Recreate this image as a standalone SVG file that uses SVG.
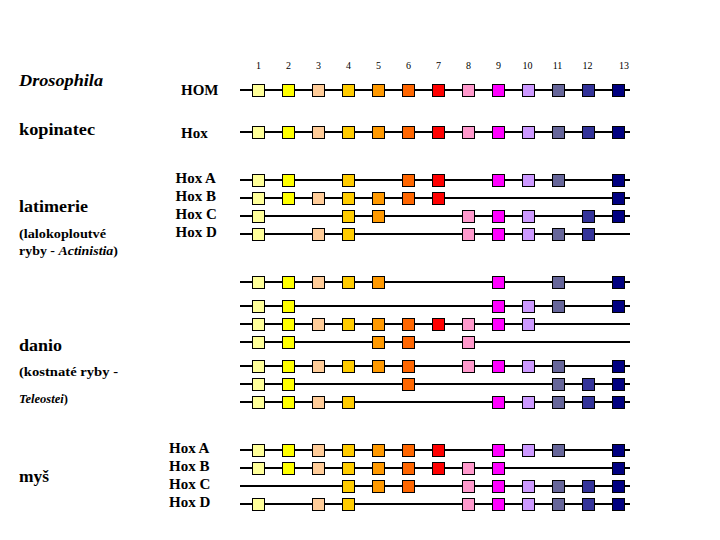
<svg xmlns="http://www.w3.org/2000/svg" width="720" height="540" viewBox="0 0 720 540">
<style>
text{font-family:'Liberation Serif','Tinos','Times New Roman','DejaVu Serif',serif;fill:#000}
.sp{font-weight:bold;font-size:16px}
.sub{font-weight:bold;font-size:12.5px}
.hx{font-size:15px;font-weight:bold}
.num{font-size:10px;text-anchor:middle}
.row line{stroke:#000;stroke-width:2}
.row rect{stroke:#000;stroke-width:1}
.c1{fill:#FFFF99}.c2{fill:#FFFF00}.c3{fill:#FFCC99}.c4{fill:#FFCC00}.c5{fill:#FF9900}
.c6{fill:#FF6600}.c7{fill:#FF0000}.c8{fill:#FF99CC}.c9{fill:#FF00FF}.c10{fill:#CC99FF}
.c11{fill:#666699}.c12{fill:#333399}.c13{fill:#000080}
</style>
<rect width="720" height="540" fill="#fff"/>
<g id="column-numbers">
<text class="num" x="258.5" y="69">1</text>
<text class="num" x="288.5" y="69">2</text>
<text class="num" x="318.5" y="69">3</text>
<text class="num" x="348.5" y="69">4</text>
<text class="num" x="378.5" y="69">5</text>
<text class="num" x="408.5" y="69">6</text>
<text class="num" x="438.5" y="69">7</text>
<text class="num" x="468.5" y="69">8</text>
<text class="num" x="498.5" y="69">9</text>
<text class="num" x="527.5" y="69">10</text>
<text class="num" x="557.5" y="69">11</text>
<text class="num" x="587.5" y="69">12</text>
<text class="num" x="624" y="69">13</text>
</g>
<g id="species-labels">
<text class="sp" x="19" y="86" font-style="italic" textLength="84" lengthAdjust="spacingAndGlyphs">Drosophila</text>
<text class="sp" x="19" y="135" textLength="76" lengthAdjust="spacingAndGlyphs">kopinatec</text>
<text class="sp" x="19" y="212" textLength="69" lengthAdjust="spacingAndGlyphs">latimerie</text>
<text class="sub" x="19" y="238" textLength="87" lengthAdjust="spacingAndGlyphs">(lalokoploutvé</text>
<text class="sub" x="19" y="255" textLength="99" lengthAdjust="spacingAndGlyphs">ryby - <tspan font-style="italic">Actinistia</tspan>)</text>
<text class="sp" x="19" y="351" textLength="43" lengthAdjust="spacingAndGlyphs">danio</text>
<text class="sub" x="19" y="376" textLength="99" lengthAdjust="spacingAndGlyphs">(kostnaté ryby -</text>
<text class="sub" x="19" y="403"><tspan font-style="italic">Teleostei</tspan>)</text>
<text class="sp" x="19" y="482" textLength="30" lengthAdjust="spacingAndGlyphs">myš</text>
</g>
<g id="cluster-labels">
<text class="hx" x="181" y="95" font-size="14">HOM</text>
<text class="hx" x="181" y="138" font-size="14">Hox</text>
<text class="hx" x="175.5" y="183">Hox A</text>
<text class="hx" x="175.5" y="201">Hox B</text>
<text class="hx" x="175.5" y="219">Hox C</text>
<text class="hx" x="175.5" y="237">Hox D</text>
<text class="hx" x="169" y="453">Hox A</text>
<text class="hx" x="169" y="471">Hox B</text>
<text class="hx" x="169" y="489">Hox C</text>
<text class="hx" x="169" y="507">Hox D</text>
</g>
<g id="drosophila-hom" class="row" transform="translate(0,90)">
<line x1="240" x2="630" y1="0" y2="0"/>
<rect class="c1" x="252.5" y="-5.5" width="12" height="12"/><rect class="c2" x="282.5" y="-5.5" width="12" height="12"/><rect class="c3" x="312.5" y="-5.5" width="12" height="12"/><rect class="c4" x="342.5" y="-5.5" width="12" height="12"/><rect class="c5" x="372.5" y="-5.5" width="12" height="12"/><rect class="c6" x="402.5" y="-5.5" width="12" height="12"/><rect class="c7" x="432.5" y="-5.5" width="12" height="12"/><rect class="c8" x="462.5" y="-5.5" width="12" height="12"/><rect class="c9" x="492.5" y="-5.5" width="12" height="12"/><rect class="c10" x="522.5" y="-5.5" width="12" height="12"/><rect class="c11" x="552.5" y="-5.5" width="12" height="12"/><rect class="c12" x="582.5" y="-5.5" width="12" height="12"/><rect class="c13" x="612.5" y="-5.5" width="12" height="12"/>
</g>
<g id="kopinatec-hox" class="row" transform="translate(0,132)">
<line x1="240" x2="630" y1="0" y2="0"/>
<rect class="c1" x="252.5" y="-5.5" width="12" height="12"/><rect class="c2" x="282.5" y="-5.5" width="12" height="12"/><rect class="c3" x="312.5" y="-5.5" width="12" height="12"/><rect class="c4" x="342.5" y="-5.5" width="12" height="12"/><rect class="c5" x="372.5" y="-5.5" width="12" height="12"/><rect class="c6" x="402.5" y="-5.5" width="12" height="12"/><rect class="c7" x="432.5" y="-5.5" width="12" height="12"/><rect class="c8" x="462.5" y="-5.5" width="12" height="12"/><rect class="c9" x="492.5" y="-5.5" width="12" height="12"/><rect class="c10" x="522.5" y="-5.5" width="12" height="12"/><rect class="c11" x="552.5" y="-5.5" width="12" height="12"/><rect class="c12" x="582.5" y="-5.5" width="12" height="12"/><rect class="c13" x="612.5" y="-5.5" width="12" height="12"/>
</g>
<g id="latimerie-a" class="row" transform="translate(0,180)">
<line x1="240" x2="630" y1="0" y2="0"/>
<rect class="c1" x="252.5" y="-5.5" width="12" height="12"/><rect class="c2" x="282.5" y="-5.5" width="12" height="12"/><rect class="c4" x="342.5" y="-5.5" width="12" height="12"/><rect class="c6" x="402.5" y="-5.5" width="12" height="12"/><rect class="c7" x="432.5" y="-5.5" width="12" height="12"/><rect class="c9" x="492.5" y="-5.5" width="12" height="12"/><rect class="c10" x="522.5" y="-5.5" width="12" height="12"/><rect class="c11" x="552.5" y="-5.5" width="12" height="12"/><rect class="c13" x="612.5" y="-5.5" width="12" height="12"/>
</g>
<g id="latimerie-b" class="row" transform="translate(0,198)">
<line x1="240" x2="630" y1="0" y2="0"/>
<rect class="c1" x="252.5" y="-5.5" width="12" height="12"/><rect class="c2" x="282.5" y="-5.5" width="12" height="12"/><rect class="c3" x="312.5" y="-5.5" width="12" height="12"/><rect class="c4" x="342.5" y="-5.5" width="12" height="12"/><rect class="c5" x="372.5" y="-5.5" width="12" height="12"/><rect class="c6" x="402.5" y="-5.5" width="12" height="12"/><rect class="c7" x="432.5" y="-5.5" width="12" height="12"/><rect class="c13" x="612.5" y="-5.5" width="12" height="12"/>
</g>
<g id="latimerie-c" class="row" transform="translate(0,216)">
<line x1="240" x2="630" y1="0" y2="0"/>
<rect class="c1" x="252.5" y="-5.5" width="12" height="12"/><rect class="c4" x="342.5" y="-5.5" width="12" height="12"/><rect class="c5" x="372.5" y="-5.5" width="12" height="12"/><rect class="c8" x="462.5" y="-5.5" width="12" height="12"/><rect class="c9" x="492.5" y="-5.5" width="12" height="12"/><rect class="c10" x="522.5" y="-5.5" width="12" height="12"/><rect class="c12" x="582.5" y="-5.5" width="12" height="12"/><rect class="c13" x="612.5" y="-5.5" width="12" height="12"/>
</g>
<g id="latimerie-d" class="row" transform="translate(0,234)">
<line x1="240" x2="630" y1="0" y2="0"/>
<rect class="c1" x="252.5" y="-5.5" width="12" height="12"/><rect class="c3" x="312.5" y="-5.5" width="12" height="12"/><rect class="c4" x="342.5" y="-5.5" width="12" height="12"/><rect class="c8" x="462.5" y="-5.5" width="12" height="12"/><rect class="c9" x="492.5" y="-5.5" width="12" height="12"/><rect class="c10" x="522.5" y="-5.5" width="12" height="12"/><rect class="c11" x="552.5" y="-5.5" width="12" height="12"/><rect class="c12" x="582.5" y="-5.5" width="12" height="12"/>
</g>
<g id="danio-1" class="row" transform="translate(0,282)">
<line x1="240" x2="630" y1="0" y2="0"/>
<rect class="c1" x="252.5" y="-5.5" width="12" height="12"/><rect class="c2" x="282.5" y="-5.5" width="12" height="12"/><rect class="c3" x="312.5" y="-5.5" width="12" height="12"/><rect class="c4" x="342.5" y="-5.5" width="12" height="12"/><rect class="c5" x="372.5" y="-5.5" width="12" height="12"/><rect class="c9" x="492.5" y="-5.5" width="12" height="12"/><rect class="c11" x="552.5" y="-5.5" width="12" height="12"/><rect class="c13" x="612.5" y="-5.5" width="12" height="12"/>
</g>
<g id="danio-2" class="row" transform="translate(0,306)">
<line x1="240" x2="630" y1="0" y2="0"/>
<rect class="c1" x="252.5" y="-5.5" width="12" height="12"/><rect class="c2" x="282.5" y="-5.5" width="12" height="12"/><rect class="c9" x="492.5" y="-5.5" width="12" height="12"/><rect class="c10" x="522.5" y="-5.5" width="12" height="12"/><rect class="c11" x="552.5" y="-5.5" width="12" height="12"/><rect class="c13" x="612.5" y="-5.5" width="12" height="12"/>
</g>
<g id="danio-3" class="row" transform="translate(0,324)">
<line x1="240" x2="630" y1="0" y2="0"/>
<rect class="c1" x="252.5" y="-5.5" width="12" height="12"/><rect class="c2" x="282.5" y="-5.5" width="12" height="12"/><rect class="c3" x="312.5" y="-5.5" width="12" height="12"/><rect class="c4" x="342.5" y="-5.5" width="12" height="12"/><rect class="c5" x="372.5" y="-5.5" width="12" height="12"/><rect class="c6" x="402.5" y="-5.5" width="12" height="12"/><rect class="c7" x="432.5" y="-5.5" width="12" height="12"/><rect class="c8" x="462.5" y="-5.5" width="12" height="12"/><rect class="c9" x="492.5" y="-5.5" width="12" height="12"/><rect class="c10" x="522.5" y="-5.5" width="12" height="12"/>
</g>
<g id="danio-4" class="row" transform="translate(0,342)">
<line x1="240" x2="630" y1="0" y2="0"/>
<rect class="c1" x="252.5" y="-5.5" width="12" height="12"/><rect class="c2" x="282.5" y="-5.5" width="12" height="12"/><rect class="c5" x="372.5" y="-5.5" width="12" height="12"/><rect class="c6" x="402.5" y="-5.5" width="12" height="12"/><rect class="c8" x="462.5" y="-5.5" width="12" height="12"/>
</g>
<g id="danio-5" class="row" transform="translate(0,366)">
<line x1="240" x2="630" y1="0" y2="0"/>
<rect class="c1" x="252.5" y="-5.5" width="12" height="12"/><rect class="c2" x="282.5" y="-5.5" width="12" height="12"/><rect class="c3" x="312.5" y="-5.5" width="12" height="12"/><rect class="c4" x="342.5" y="-5.5" width="12" height="12"/><rect class="c5" x="372.5" y="-5.5" width="12" height="12"/><rect class="c6" x="402.5" y="-5.5" width="12" height="12"/><rect class="c8" x="462.5" y="-5.5" width="12" height="12"/><rect class="c9" x="492.5" y="-5.5" width="12" height="12"/><rect class="c10" x="522.5" y="-5.5" width="12" height="12"/><rect class="c11" x="552.5" y="-5.5" width="12" height="12"/><rect class="c13" x="612.5" y="-5.5" width="12" height="12"/>
</g>
<g id="danio-6" class="row" transform="translate(0,384)">
<line x1="240" x2="630" y1="0" y2="0"/>
<rect class="c1" x="252.5" y="-5.5" width="12" height="12"/><rect class="c2" x="282.5" y="-5.5" width="12" height="12"/><rect class="c6" x="402.5" y="-5.5" width="12" height="12"/><rect class="c11" x="552.5" y="-5.5" width="12" height="12"/><rect class="c12" x="582.5" y="-5.5" width="12" height="12"/><rect class="c13" x="612.5" y="-5.5" width="12" height="12"/>
</g>
<g id="danio-7" class="row" transform="translate(0,402)">
<line x1="240" x2="630" y1="0" y2="0"/>
<rect class="c1" x="252.5" y="-5.5" width="12" height="12"/><rect class="c2" x="282.5" y="-5.5" width="12" height="12"/><rect class="c3" x="312.5" y="-5.5" width="12" height="12"/><rect class="c4" x="342.5" y="-5.5" width="12" height="12"/><rect class="c9" x="492.5" y="-5.5" width="12" height="12"/><rect class="c10" x="522.5" y="-5.5" width="12" height="12"/><rect class="c11" x="552.5" y="-5.5" width="12" height="12"/><rect class="c12" x="582.5" y="-5.5" width="12" height="12"/><rect class="c13" x="612.5" y="-5.5" width="12" height="12"/>
</g>
<g id="mys-a" class="row" transform="translate(0,450)">
<line x1="240" x2="630" y1="0" y2="0"/>
<rect class="c1" x="252.5" y="-5.5" width="12" height="12"/><rect class="c2" x="282.5" y="-5.5" width="12" height="12"/><rect class="c3" x="312.5" y="-5.5" width="12" height="12"/><rect class="c4" x="342.5" y="-5.5" width="12" height="12"/><rect class="c5" x="372.5" y="-5.5" width="12" height="12"/><rect class="c6" x="402.5" y="-5.5" width="12" height="12"/><rect class="c7" x="432.5" y="-5.5" width="12" height="12"/><rect class="c9" x="492.5" y="-5.5" width="12" height="12"/><rect class="c10" x="522.5" y="-5.5" width="12" height="12"/><rect class="c11" x="552.5" y="-5.5" width="12" height="12"/><rect class="c13" x="612.5" y="-5.5" width="12" height="12"/>
</g>
<g id="mys-b" class="row" transform="translate(0,468)">
<line x1="240" x2="630" y1="0" y2="0"/>
<rect class="c1" x="252.5" y="-5.5" width="12" height="12"/><rect class="c2" x="282.5" y="-5.5" width="12" height="12"/><rect class="c3" x="312.5" y="-5.5" width="12" height="12"/><rect class="c4" x="342.5" y="-5.5" width="12" height="12"/><rect class="c5" x="372.5" y="-5.5" width="12" height="12"/><rect class="c6" x="402.5" y="-5.5" width="12" height="12"/><rect class="c7" x="432.5" y="-5.5" width="12" height="12"/><rect class="c8" x="462.5" y="-5.5" width="12" height="12"/><rect class="c9" x="492.5" y="-5.5" width="12" height="12"/><rect class="c13" x="612.5" y="-5.5" width="12" height="12"/>
</g>
<g id="mys-c" class="row" transform="translate(0,486)">
<line x1="240" x2="630" y1="0" y2="0"/>
<rect class="c4" x="342.5" y="-5.5" width="12" height="12"/><rect class="c5" x="372.5" y="-5.5" width="12" height="12"/><rect class="c6" x="402.5" y="-5.5" width="12" height="12"/><rect class="c8" x="462.5" y="-5.5" width="12" height="12"/><rect class="c9" x="492.5" y="-5.5" width="12" height="12"/><rect class="c10" x="522.5" y="-5.5" width="12" height="12"/><rect class="c11" x="552.5" y="-5.5" width="12" height="12"/><rect class="c12" x="582.5" y="-5.5" width="12" height="12"/><rect class="c13" x="612.5" y="-5.5" width="12" height="12"/>
</g>
<g id="mys-d" class="row" transform="translate(0,504)">
<line x1="240" x2="630" y1="0" y2="0"/>
<rect class="c1" x="252.5" y="-5.5" width="12" height="12"/><rect class="c3" x="312.5" y="-5.5" width="12" height="12"/><rect class="c4" x="342.5" y="-5.5" width="12" height="12"/><rect class="c8" x="462.5" y="-5.5" width="12" height="12"/><rect class="c9" x="492.5" y="-5.5" width="12" height="12"/><rect class="c10" x="522.5" y="-5.5" width="12" height="12"/><rect class="c11" x="552.5" y="-5.5" width="12" height="12"/><rect class="c12" x="582.5" y="-5.5" width="12" height="12"/><rect class="c13" x="612.5" y="-5.5" width="12" height="12"/>
</g>
</svg>
